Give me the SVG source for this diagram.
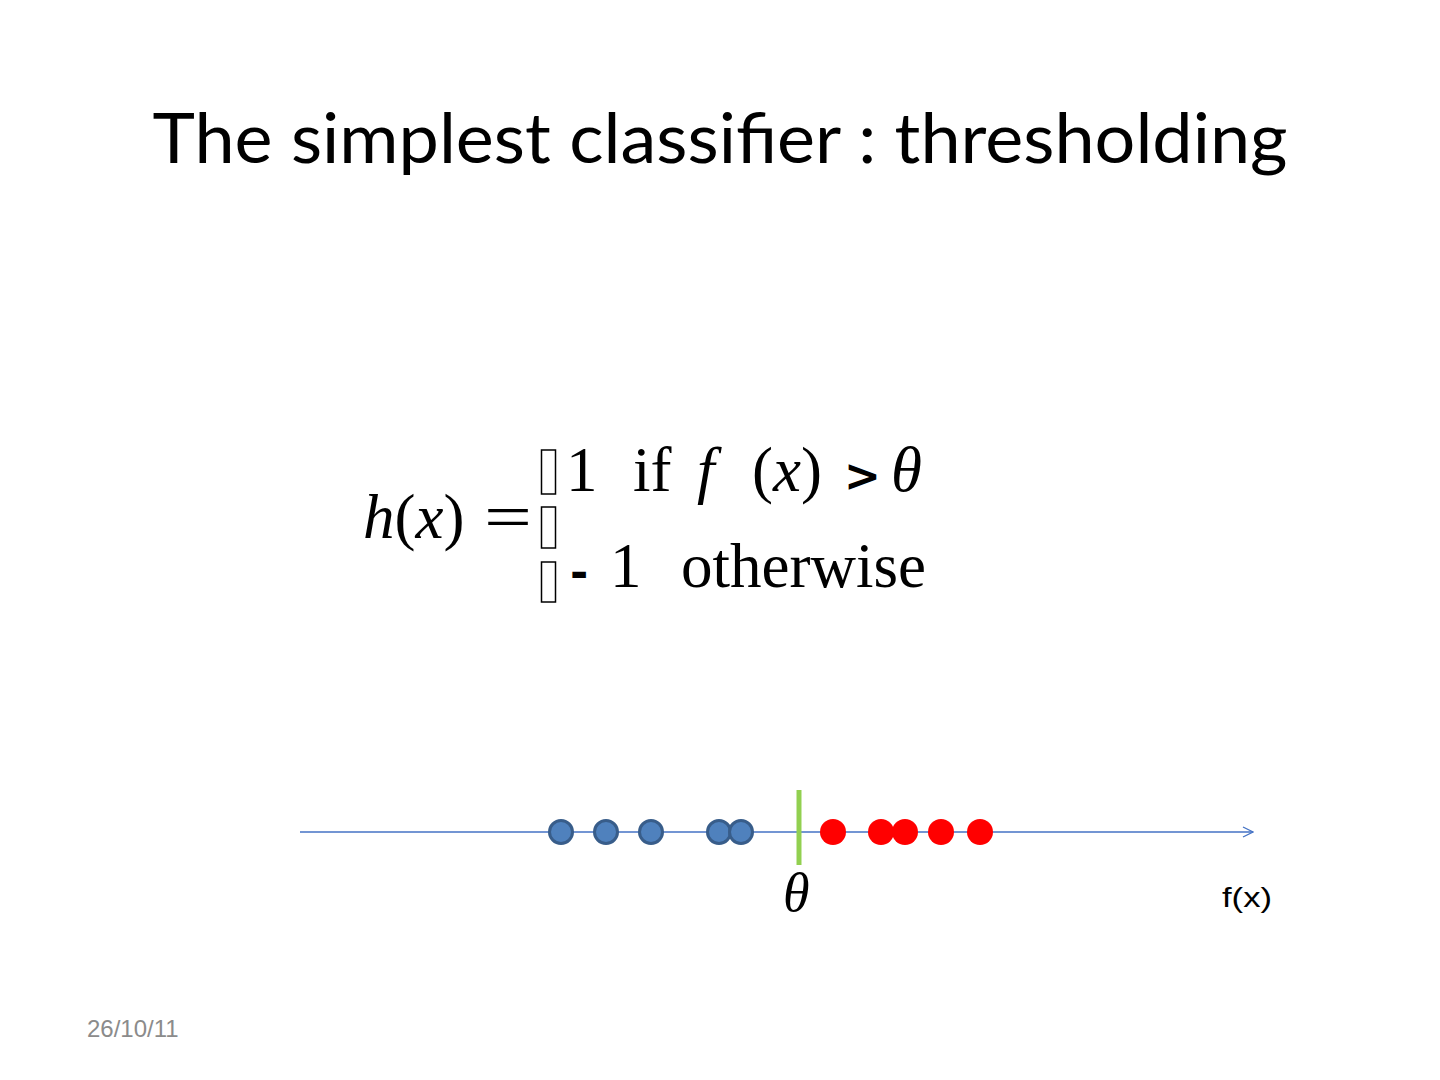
<svg xmlns="http://www.w3.org/2000/svg" width="1440" height="1080" viewBox="0 0 1440 1080">
<style>
.title{font-family:Lato,"Open Sans",sans-serif;font-size:70px;fill:#000}
.math{font-family:"Liberation Serif",serif;font-size:63px;fill:#000}
.it{font-style:italic}
.op{font-family:"DejaVu Sans",sans-serif;font-weight:bold}
.box{fill:#fff;stroke:#000;stroke-width:1.5}
.blue{fill:#4F81BD;stroke:#385D8A;stroke-width:3}
.red{fill:#FF0000}
.lbl{font-family:"Liberation Sans",Arial,sans-serif;font-size:28px;fill:#000}
.date{font-family:"Liberation Sans",Arial,sans-serif;font-size:24px;fill:#8B8B8B}
</style>
<defs>
<marker id="arr" viewBox="0 0 12 12" refX="11" refY="6" markerWidth="12" markerHeight="12" markerUnits="userSpaceOnUse" orient="auto">
<path d="M1,1 L11,6 L1,11" fill="none" stroke="#4472C4" stroke-width="1.3"/>
</marker>
</defs>
<rect width="1440" height="1080" fill="#fff"/>
<text id="title" class="title" x="720" y="163" text-anchor="middle" textLength="1135" lengthAdjust="spacingAndGlyphs">The simplest classifier : thresholding</text>
<g id="equation">
<text class="math" x="363" y="538"><tspan class="it">h</tspan>(<tspan class="it">x</tspan>)</text>
<text class="math" x="484" y="538" textLength="48" lengthAdjust="spacingAndGlyphs">=</text>
<rect class="box" x="541.5" y="450" width="14" height="44"/>
<rect class="box" x="541.5" y="507" width="14" height="41"/>
<rect class="box" x="541.5" y="562" width="14" height="40"/>
<text class="math" x="566" y="491">1</text>
<text class="math" x="633" y="491">if</text>
<text class="math it" x="697" y="491">f</text>
<text class="math" x="752" y="491">(<tspan class="it">x</tspan>)</text>
<text class="op" x="844" y="491" style="font-size:44px">&gt;</text>
<text class="math it" x="891" y="491">θ</text>
<text class="op" x="570" y="588" style="font-size:44px">-</text>
<text class="math" x="610" y="587">1</text>
<text class="math" x="681" y="587" textLength="245" lengthAdjust="spacingAndGlyphs">otherwise</text>
</g>
<g id="connectors">
<line x1="300" y1="832" x2="1253" y2="832" stroke="#4472C4" stroke-width="1.3" marker-end="url(#arr)"/>
</g>
<g id="threshold">
<line x1="799" y1="790" x2="799" y2="865" stroke="#92D050" stroke-width="5"/>
<text class="math it" x="783" y="911" style="font-size:54px">θ</text>
</g>
<g id="negatives">
<circle class="blue" cx="561" cy="832" r="11.5"/>
<circle class="blue" cx="606" cy="832" r="11.5"/>
<circle class="blue" cx="651" cy="832" r="11.5"/>
<circle class="blue" cx="719" cy="832" r="11.5"/>
<circle class="blue" cx="741" cy="832" r="11.5"/>
</g>
<g id="positives">
<circle class="red" cx="833" cy="832" r="13"/>
<circle class="red" cx="881" cy="832" r="13"/>
<circle class="red" cx="905" cy="832" r="13"/>
<circle class="red" cx="941" cy="832" r="13"/>
<circle class="red" cx="980" cy="832" r="13"/>
</g>
<text id="axis-label" class="lbl" x="1222" y="907" textLength="50" lengthAdjust="spacingAndGlyphs">f(x)</text>
<text id="date" class="date" x="87" y="1037">26/10/11</text>
</svg>
